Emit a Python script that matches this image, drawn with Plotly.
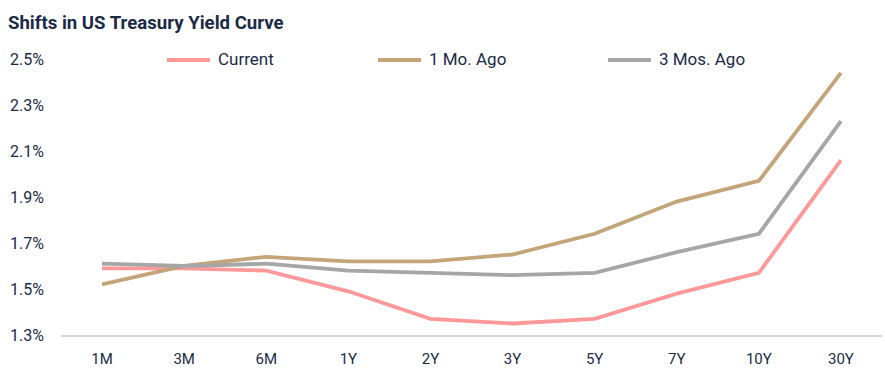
import plotly.graph_objects as go

tenors = ["1M", "3M", "6M", "1Y", "2Y", "3Y", "5Y", "7Y", "10Y", "30Y"]
current = [1.59, 1.59, 1.58, 1.49, 1.37, 1.35, 1.37, 1.48, 1.57, 2.06]
one_mo_ago = [1.52, 1.60, 1.64, 1.62, 1.62, 1.65, 1.74, 1.88, 1.97, 2.44]
three_mos_ago = [1.61, 1.60, 1.61, 1.58, 1.57, 1.56, 1.57, 1.66, 1.74, 2.23]
y_ticks = [1.3, 1.5, 1.7, 1.9, 2.1, 2.3, 2.5]
series_names = ["Current", "1 Mo. Ago", "3 Mos. Ago"]
series_colors = ["#FF9999", "#C4A57A", "#A6A6A6"]

navy = "#1B2A47"
font = "Roboto"

W, H = 885, 386
ml, mr, mt, mb = 61, 3, 59, 51
pw, ph = W - ml - mr, H - mt - mb

fig = go.Figure()
for name, vals, col in zip(series_names, [current, one_mo_ago, three_mos_ago], series_colors):
    fig.add_trace(go.Scatter(x=tenors, y=vals, mode="lines", name=name, showlegend=False,
                             line=dict(color=col, width=3.8)))

# manual legend (long line samples like the reference)
legend_x = [165, 376, 606]
legend_y = 60
shapes, annotations = [], []
px = lambda p: (p - ml) / pw
py = lambda p: (H - mb - p) / ph
for name, col, x0 in zip(series_names, series_colors, legend_x):
    shapes.append(dict(type="line", xref="paper", yref="paper",
                       x0=px(x0 + 2), x1=px(x0 + 45), y0=py(legend_y), y1=py(legend_y),
                       line=dict(color=col, width=4)))
    annotations.append(dict(text=name, xref="paper", yref="paper", x=px(x0 + 51), y=py(legend_y - 1),
                            xanchor="left", yanchor="middle", showarrow=False,
                            font=dict(family=font, size=17, color=navy)))

fig.update_layout(
    width=W, height=H,
    margin=dict(l=ml, r=mr, t=mt, b=mb, autoexpand=False),
    paper_bgcolor="white", plot_bgcolor="white",
    title=dict(text="<b>Shifts in US Treasury Yield Curve</b>", x=8 / W, xanchor="left",
               xref="container", pad=dict(l=0, r=0, t=0, b=0),
               y=1 - 22 / H, yanchor="middle",
               font=dict(family=font, size=18.6, color=navy)),
    font=dict(family=font, color=navy),
    shapes=shapes, annotations=annotations,
    xaxis=dict(type="category", range=[-0.5, 9.5], showgrid=False, showline=True,
               linecolor="#D9D9D9", linewidth=2, ticks="", ticklabelstandoff=9,
               tickfont=dict(family=font, size=15, color=navy), zeroline=False),
    yaxis=dict(range=[1.3, 2.5], tickvals=y_ticks, ticktext=[f"{v:.1f}%" for v in y_ticks],
               showgrid=False, showline=False, zeroline=False, ticks="",
               ticklabelstandoff=16,
               tickfont=dict(family=font, size=16, color=navy)),
)

fig.write_html("out.html", config={"displayModeBar": False},
               post_script="document.body.style.margin='0';")
